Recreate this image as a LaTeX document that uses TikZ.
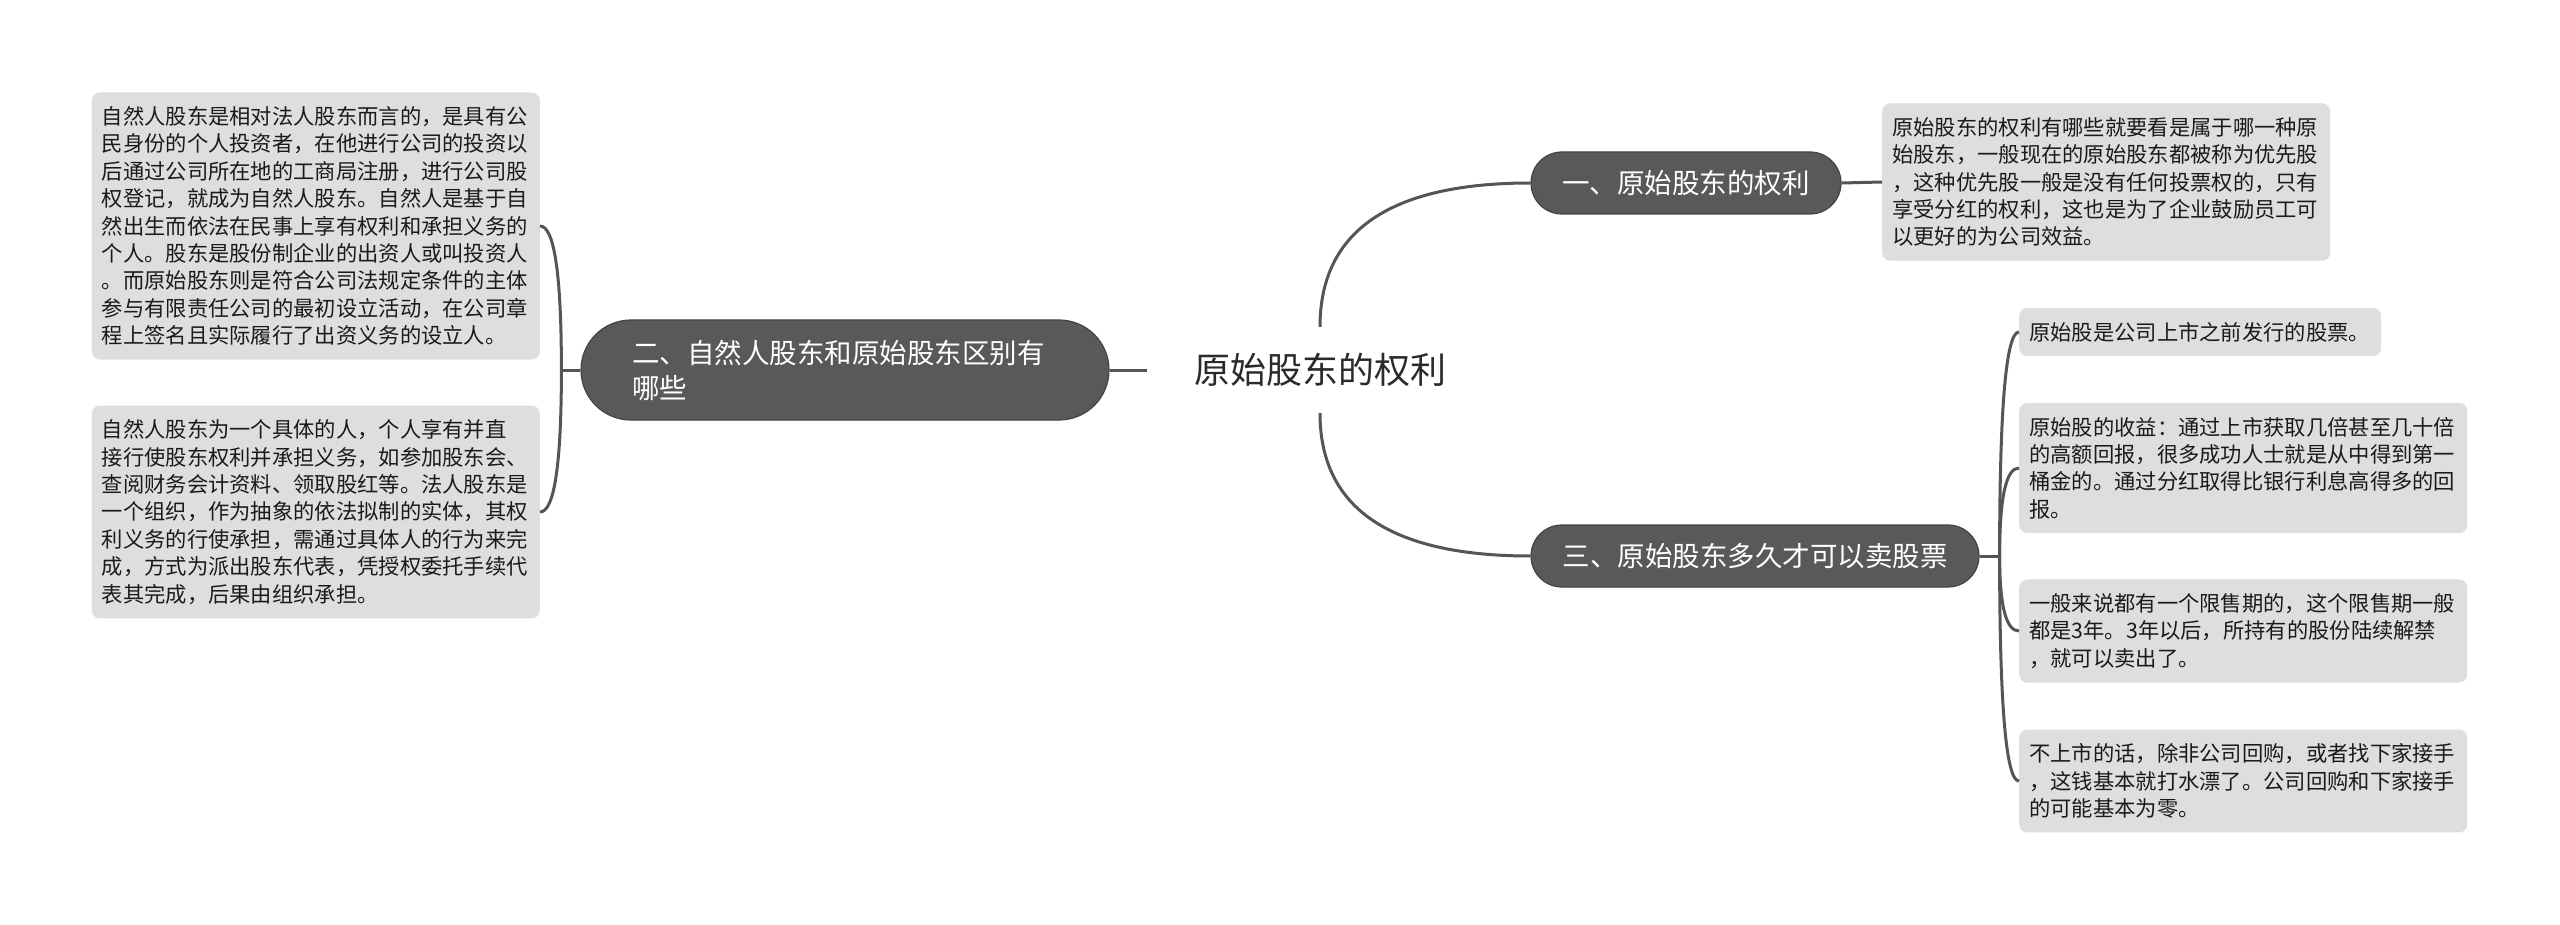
\documentclass[tikz,border=0pt]{standalone}
\usepackage{fontspec}
\newfontfamily\cjk{Noto Sans CJK SC}
\usetikzlibrary{calc}
\definecolor{nodefill}{HTML}{595959}
\definecolor{nodeedge}{HTML}{444444}
\definecolor{linec}{HTML}{555555}
\definecolor{boxfill}{HTML}{DEDEDE}
\definecolor{notetext}{HTML}{1A1A1A}
\definecolor{roottext}{HTML}{2A2A2A}
\newcommand\qlink[2]{%
  \coordinate (qc) at (#1|-#2);
  \draw[conn] (#1) .. controls ($(#1)!0.6667!(qc)$) and ($(#2)!0.6667!(qc)$) .. (#2);}
\begin{document}
\begin{tikzpicture}[x=1pt,y=-1pt,
  conn/.style={draw=linec, line width=3pt},
  topic/.style={draw=nodeedge, line width=1.2pt, fill=nodefill, text=white,
    rounded corners=31pt, minimum height=62pt, inner sep=0pt,
    font=\cjk\fontsize{27.5}{35}\selectfont},
  note/.style={fill=boxfill, rounded corners=8pt, text=notetext, text width=428pt,
    align=left, inner xsep=10pt, inner ysep=14pt,
    font=\cjk\fontsize{21.3}{27.4}\selectfont},
]
\fill[white] (0,0) rectangle (2560,925);
\useasboundingbox (0,0) rectangle (2560,925);

\node[font=\cjk\fontsize{36}{40}\selectfont, text=roottext, minimum width=346pt,
  minimum height=86pt, inner sep=0pt] (root) at (1320,370) {原始股东的权利};

\node[topic, minimum width=310pt] (n1) at (1686,183) {一、原始股东的权利};
\node[topic, minimum width=448pt] (n3) at (1755,556) {三、原始股东多久才可以卖股票};
\node[topic, rounded corners=50pt, minimum height=100pt, text width=426pt,
  align=left, inner xsep=51pt] (n2) at (845,370) {二、自然人股东和原始股东区别有\\哪些};

\node[note, anchor=east] (L1) at (540,226) {自然人股东是相对法人股东而言的，是具有公\\
民身份的个人投资者，在他进行公司的投资以\\
后通过公司所在地的工商局注册，进行公司股\\
权登记，就成为自然人股东。自然人是基于自\\
然出生而依法在民事上享有权利和承担义务的\\
个人。股东是股份制企业的出资人或叫投资人\\
。而原始股东则是符合公司法规定条件的主体\\
参与有限责任公司的最初设立活动，在公司章\\
程上签名且实际履行了出资义务的设立人。};

\node[note, anchor=east] (L2) at (540,512) {自然人股东为一个具体的人，个人享有并直\\
接行使股东权利并承担义务，如参加股东会、\\
查阅财务会计资料、领取股红等。法人股东是\\
一个组织，作为抽象的依法拟制的实体，其权\\
利义务的行使承担，需通过具体人的行为来完\\
成，方式为派出股东代表，凭授权委托手续代\\
表其完成，后果由组织承担。};

\node[note, anchor=west] (R0) at (1882,182) {原始股东的权利有哪些就要看是属于哪一种原\\
始股东，一般现在的原始股东都被称为优先股\\
，这种优先股一般是没有任何投票权的，只有\\
享受分红的权利，这也是为了企业鼓励员工可\\
以更好的为公司效益。};

\node[note, anchor=west, text width=342pt] (R1) at (2019,332) {原始股是公司上市之前发行的股票。};

\node[note, anchor=west] (R2) at (2019,468) {原始股的收益：通过上市获取几倍甚至几十倍\\
的高额回报，很多成功人士就是从中得到第一\\
桶金的。通过分红取得比银行利息高得多的回\\
报。};

\node[note, anchor=west] (R3) at (2019,631) {一般来说都有一个限售期的，这个限售期一般\\
都是3年。3年以后，所持有的股份陆续解禁\\
，就可以卖出了。};

\node[note, anchor=west] (R4) at (2019,781) {不上市的话，除非公司回购，或者找下家接手\\
，这钱基本就打水漂了。公司回购和下家接手\\
的可能基本为零。};

% connectors
\qlink{root.north}{n1.west}
\qlink{root.south}{n3.west}
\draw[conn] (n2.east) -- (root.west);
\draw[conn] (n1.east) -- (R0.west);

\coordinate (s3) at ($(n3.east)+(20,0)$);
\draw[conn] (n3.east) -- (s3);
\qlink{s3}{R1.west}
\qlink{s3}{R2.west}
\qlink{s3}{R3.west}
\qlink{s3}{R4.west}

\coordinate (s2) at ($(n2.west)+(-19,0)$);
\draw[conn] (n2.west) -- (s2);
\qlink{s2}{L1.east}
\qlink{s2}{L2.east}
\end{tikzpicture}
\end{document}
